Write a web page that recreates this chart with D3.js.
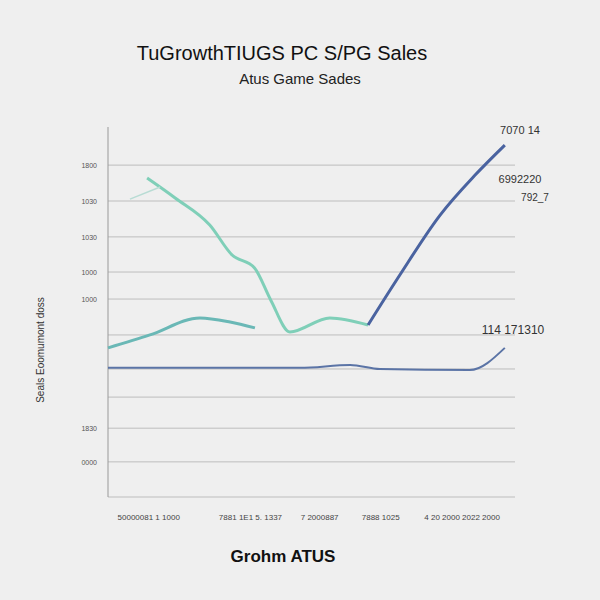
<!DOCTYPE html>
<html><head><meta charset="utf-8">
<script src="https://cdn.jsdelivr.net/npm/d3@7"></script>
<style>body{margin:0;background:#efefef;font-family:"Liberation Sans",Arial,sans-serif}</style>
</head><body>
<script>
// Data (x = period 0..100, y = sales index 0..100)
const tealTopX = [9.6, 16.5, 25, 30.5, 36, 40, 44.7, 54.5, 63.9];
const tealTopY = [86.2, 80.8, 73.5, 65.4, 61.9, 53.2, 44.6, 48.4, 46.5];
const blueRiseX = [63.9, 71.7, 81.6, 90.2, 97.5];
const blueRiseY = [46.5, 60, 76.2, 87, 95.1];
const tealLowX = [0, 10.3, 22.6, 30, 36.1];
const tealLowY = [40.3, 43.8, 48.4, 47.3, 45.7];
const blueFlatX = [0, 22.6, 47.2, 59.5, 66.8, 88.9, 97.5];
const blueFlatY = [34.9, 34.9, 34.9, 35.7, 34.6, 34.3, 40.3];
const gridValues = [89.7, 80, 70.3, 60.8, 53.5, 43.8, 34.6, 27, 18.6, 9.5, 0];
const yTickValues = [89.7, 80, 70.3, 60.8, 53.5, 18.6, 9.5];
const yTickLabels = ['1800', '1030', '1030', '1000', '1000', '1830', '0000'];
const xTickValues = [10, 35, 52, 67, 87];
const xTickLabels = ['50000081 1 1000', '7881 1E1 5. 1337', '7 2000887', '7888 1025', '4 20 2000 2022 2000'];

const W = 600, H = 600;
const margin = { top: 127, bottom: 103, left: 108, right: 85 };
const svg = d3.select('body').append('svg').attr('width', W).attr('height', H);
svg.append('rect').attr('width', W).attr('height', H).attr('fill', '#efefef');

const x = d3.scaleLinear().domain([0, 100]).range([margin.left, W - margin.right]);
const y = d3.scaleLinear().domain([0, 100]).range([H - margin.bottom, margin.top]);

// gridlines
svg.selectAll('.grid').data(gridValues).enter().append('line')
  .attr('x1', x(0)).attr('x2', x(100))
  .attr('y1', d => y(d)).attr('y2', d => y(d))
  .attr('stroke', '#bdbdbd').attr('stroke-width', 1);
svg.append('line').attr('x1', x(0)).attr('x2', x(0)).attr('y1', y(100)).attr('y2', y(0))
  .attr('stroke', '#999');

// y tick labels
svg.selectAll('.yt').data(yTickValues).enter().append('text')
  .attr('x', 97).attr('y', d => y(d) + 3).attr('text-anchor', 'end')
  .attr('font-size', 7).attr('fill', '#555').text((d, i) => yTickLabels[i]);
// x tick labels
svg.selectAll('.xt').data(xTickValues).enter().append('text')
  .attr('x', d => x(d)).attr('y', 520).attr('text-anchor', 'middle')
  .attr('font-size', 8).attr('fill', '#444').text((d, i) => xTickLabels[i]);

const line = d3.line().x(d => x(d[0])).y(d => y(d[1])).curve(d3.curveMonotoneX);
const zip = (a, b) => a.map((v, i) => [v, b[i]]);
const series = [
  { d: zip(tealTopX, tealTopY), c: '#7fcfb8', w: 3 },
  { d: zip(tealLowX, tealLowY), c: '#6ab8b6', w: 3 },
  { d: zip(blueFlatX, blueFlatY), c: '#5b74a6', w: 2 },
  { d: zip(blueRiseX, blueRiseY), c: '#4a63a0', w: 3 }
];
svg.selectAll('.ln').data(series).enter().append('path')
  .attr('fill', 'none').attr('stroke', d => d.c).attr('stroke-width', d => d.w)
  .attr('d', d => line(d.d));
svg.append('path').attr('fill', 'none').attr('stroke', '#b8dcd4').attr('stroke-width', 1.5)
  .attr('d', line([[5.4, 80.5], [12.8, 83.8]]));

// titles and annotations
svg.append('text').attr('x', 282).attr('y', 60).attr('text-anchor', 'middle')
  .attr('font-size', 20).attr('fill', '#111').text('TuGrowthTIUGS PC S/PG Sales');
svg.append('text').attr('x', 300).attr('y', 84).attr('text-anchor', 'middle')
  .attr('font-size', 15).attr('fill', '#222').text('Atus Game Sades');
svg.append('text').attr('x', 283).attr('y', 562).attr('text-anchor', 'middle')
  .attr('font-size', 17).attr('font-weight', 'bold').attr('fill', '#111').text('Grohm ATUS');
svg.append('text').attr('transform', 'translate(44,350) rotate(-90)').attr('text-anchor', 'middle')
  .attr('font-size', 10).attr('fill', '#333').text('Seals Eoomumont doss');
const notes = [[520, 134, '7070 14', 11], [520, 183, '6992220', 11], [535, 201, '792_7', 10], [513, 334, '114 171310', 12]];
svg.selectAll('.note').data(notes).enter().append('text')
  .attr('x', d => d[0]).attr('y', d => d[1]).attr('text-anchor', 'middle')
  .attr('font-size', d => d[3]).attr('fill', '#333').text(d => d[2]);
</script>
</body></html>
